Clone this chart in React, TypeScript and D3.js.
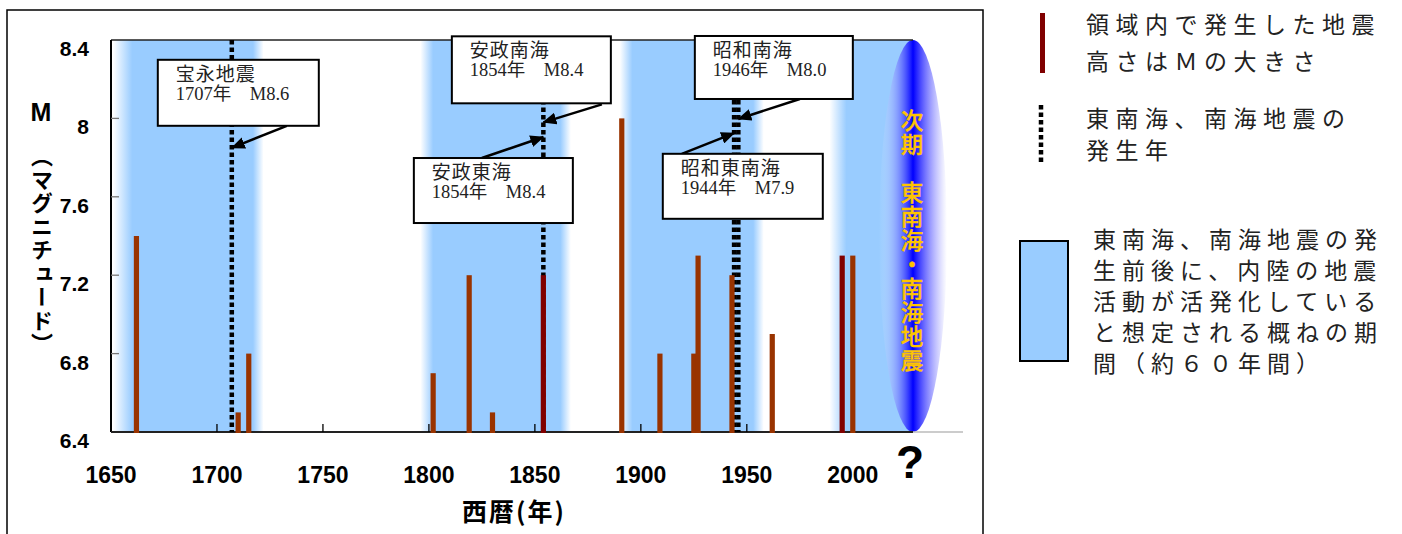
import React from "react";
import * as d3 from "d3";

// ---- data ----
const quakeYears = [1662, 1710, 1715, 1802, 1819, 1830, 1854, 1891, 1909, 1925, 1927, 1943, 1962, 1995, 2000];
const quakeMagnitudes = [7.4, 6.5, 6.8, 6.7, 7.2, 6.5, 7.2, 8.0, 6.8, 6.8, 7.3, 7.2, 6.9, 7.3, 7.3];
const quakeInRegion = [false, false, false, false, false, false, true, false, false, false, false, false, false, true, false];

const trenchQuakeYears = [1707, 1854, 1944, 1946];

const bandStart = [1651, 1796, 1890, 1989];
const bandEnd = [1722, 1867, 1958, 2028.4];
const bandFadeIn = [9, 6, 6, 8];
const bandFadeOut = [5, 5, 5, 0];

const xTicks = [1650, 1700, 1750, 1800, 1850, 1900, 1950, 2000];
const yTicks = [6.4, 6.8, 7.2, 7.6, 8, 8.4];
const yTickLabels = ["6.4", "6.8", "7.2", "7.6", "8", "8.4"];

const annoTitles = ["宝永地震", "安政南海", "安政東海", "昭和南海", "昭和東南海"];
const annoSubs = ["1707年　M8.6", "1854年　M8.4", "1854年　M8.4", "1946年　M8.0", "1944年　M7.9"];
const annoYear = [1707, 1854, 1854, 1946, 1944];
const annoTargetM = [7.85, 7.98, 7.905, 7.997, 7.925];
// box placement relative to arrow target (layout)
const annoBox = [
  { dx: -74, dy: -88, w: 161, h: 66, sx: 55, sy: -22 },
  { dx: -91.5, dy: -86, w: 159, h: 67, sx: 58.5, sy: -18 },
  { dx: -129.5, dy: 21, w: 159, h: 65, sx: -61.5, sy: 21 },
  { dx: -43.5, dy: -83, w: 158, h: 63, sx: 61.5, sy: -20 },
  { dx: -71.3, dy: 20.7, w: 160, h: 65, sx: -52.3, sy: 20.7 },
];

const nextQuakeYear = 2028.4;
const nextQuakeLabel = "次期　東南海・南海地震";

const legend1 = ["領域内で発生した地震", "高さはＭの大きさ"];
const legend2 = ["東南海、南海地震の", "発生年"];
const legend3 = ["東南海、南海地震の発", "生前後に、内陸の地震", "活動が活発化している", "と想定される概ねの期", "間（約６０年間）"];

const BAND = "#99CCFF";
const BAR = "#993300";
const BAR_DARK = "#800000";
const SANS = '"Liberation Sans", Arial, "Noto Sans CJK JP", sans-serif';
const SERIF = '"Liberation Serif", "Noto Sans CJK JP", serif';
const JP = '"Noto Sans CJK JP", "Liberation Sans", sans-serif';

export default function App() {
  const x = d3.scaleLinear().domain([1650, 2052]).range([111, 963]);
  const y = d3.scaleLinear().domain([6.4, 8.4]).range([432, 40]);
  const [x0, x1] = x.range();
  const [yb, yt] = y.range();
  const xEll = x(nextQuakeYear);

  return (
    <svg width={1402} height={534} style={{ position: "absolute", left: 0, top: 0, background: "#fff" }}>
      <defs>
        {bandStart.map((s, i) => {
          const span = bandEnd[i] - s;
          return (
            <linearGradient key={i} id={`band${i}`} x1="0" x2="1" y1="0" y2="0">
              <stop offset="0" stopColor={BAND} stopOpacity={0} />
              <stop offset={bandFadeIn[i] / span} stopColor={BAND} stopOpacity={1} />
              <stop offset={1 - bandFadeOut[i] / span} stopColor={BAND} stopOpacity={1} />
              <stop offset="1" stopColor={BAND} stopOpacity={bandFadeOut[i] === 0 ? 1 : 0} />
            </linearGradient>
          );
        })}
        <linearGradient id="ell" x1="0" x2="1" y1="0" y2="0">
          <stop offset="0" stopColor="#ffffff" stopOpacity={0} />
          <stop offset="0.5" stopColor="#0000ff" stopOpacity={1} />
          <stop offset="1" stopColor="#ffffff" stopOpacity={0.6} />
        </linearGradient>
        <marker id="arr" markerUnits="userSpaceOnUse" markerWidth={14} markerHeight={12} refX={13} refY={6} orient="auto">
          <path d="M0,0 L14,6 L0,12 z" fill="#000" />
        </marker>
      </defs>

      {/* outer frame */}
      <rect x={7} y={10} width={976} height={560} fill="none" stroke="#000" strokeWidth={1.5} />

      {/* bands */}
      {bandStart.map((s, i) => (
        <rect key={i} x={x(s)} y={yt} width={x(bandEnd[i]) - x(s)} height={yb - yt} fill={`url(#band${i})`} />
      ))}

      {/* next quake ellipse */}
      <ellipse cx={xEll} cy={(yt + yb) / 2} rx={34} ry={(yb - yt) / 2} fill="url(#ell)" />

      {/* plot frame lines */}
      <line x1={x0} x2={xEll} y1={yt} y2={yt} stroke="#222" strokeWidth={1.5} />
      <line x1={x0} x2={x0} y1={yt} y2={yb} stroke="#000" strokeWidth={2} />
      <line x1={x0} x2={xEll} y1={yb} y2={yb} stroke="#222" strokeWidth={2} />
      <line x1={xEll} x2={x1} y1={yb} y2={yb} stroke="#bbb" strokeWidth={1.5} />

      {/* ticks */}
      {xTicks.slice(1).map((t) => (
        <line key={t} x1={x(t)} x2={x(t)} y1={yb} y2={yb - 8} stroke="#000" strokeWidth={1.3} />
      ))}
      {yTicks.slice(1, -1).map((t) => (
        <line key={t} x1={x0} x2={x0 + 8} y1={y(t)} y2={y(t)} stroke="#777" strokeWidth={1.3} />
      ))}

      {/* trench quake dotted lines */}
      {trenchQuakeYears.map((yr) => (
        <line key={yr} x1={x(yr)} x2={x(yr)} y1={yt} y2={yb} stroke="#000" strokeWidth={4.5} strokeDasharray="4.5 3" />
      ))}

      {/* bars */}
      {quakeYears.map((yr, i) => (
        <rect key={i} x={x(yr) - 2.6} y={y(quakeMagnitudes[i])} width={5.2} height={yb + 1 - y(quakeMagnitudes[i])}
          fill={quakeInRegion[i] ? BAR_DARK : BAR} />
      ))}

      {/* next quake text */}
      <text x={xEll - 1} y={109} fill="#FFC400" fontFamily={JP} fontWeight={500} fontSize={22.5} letterSpacing={1.5}
        stroke="#FFC400" strokeWidth={0.4}
        style={{ writingMode: "vertical-rl", textOrientation: "upright" } as any}>{nextQuakeLabel}</text>

      {/* annotations */}
      {annoTitles.map((t, i) => {
        const tx = x(annoYear[i]);
        const ty = y(annoTargetM[i]);
        const b = annoBox[i];
        const bx = tx + b.dx;
        const by = ty + b.dy;
        return (
          <g key={i}>
            <line x1={tx + b.sx} y1={ty + b.sy} x2={tx} y2={ty} stroke="#000" strokeWidth={2.5} markerEnd="url(#arr)" />
            <rect x={bx} y={by} width={b.w} height={b.h} fill="#fff" stroke="#000" strokeWidth={2} />
            <text x={bx + 18} y={by + 21} fontFamily={SERIF} fontSize={19} letterSpacing={1} fill="#222">{t}</text>
            <text x={bx + 18} y={by + 40} fontFamily={SERIF} fontSize={18.5} fill="#222">{annoSubs[i]}</text>
          </g>
        );
      })}

      {/* y tick labels */}
      {yTicks.map((t, i) => (
        <text key={t} x={89} y={y(t) + 16} textAnchor="end" fontFamily={SANS} fontWeight="bold" fontSize={21}>{yTickLabels[i]}</text>
      ))}
      {/* x tick labels */}
      {xTicks.map((t) => (
        <text key={t} x={x(t)} y={483} textAnchor="middle" fontFamily={SANS} fontWeight="bold" fontSize={23}>{t}</text>
      ))}
      <text x={910} y={478} textAnchor="middle" fontFamily={SANS} fontWeight="bold" fontSize={46}>?</text>

      {/* axis titles */}
      <text x={514} y={521} textAnchor="middle" fontFamily={JP} fontWeight="bold" fontSize={25} letterSpacing={2}>西暦(年)</text>
      <text x={41} y={121} textAnchor="middle" fontFamily={SANS} fontWeight="bold" fontSize={25}>M</text>
      <text x={42} y={145} fontFamily={JP} fontWeight="bold" fontSize={22} letterSpacing={1.5}
        style={{ writingMode: "vertical-rl", textOrientation: "upright" } as any}>（マグニチュード）</text>

      {/* legend */}
      <rect x={1040} y={13} width={5} height={60} fill={BAR_DARK} />
      {legend1.map((s, i) => (
        <text key={s} x={1086} y={33 + i * 37} fontFamily={SERIF} fontSize={23} letterSpacing={6.5} fill="#222">{s}</text>
      ))}
      <line x1={1041} x2={1041} y1={105} y2={163} stroke="#000" strokeWidth={4.5} strokeDasharray="4.5 3" />
      {legend2.map((s, i) => (
        <text key={s} x={1086} y={127 + i * 32} fontFamily={SERIF} fontSize={23} letterSpacing={6.5} fill="#222">{s}</text>
      ))}
      <rect x={1020} y={241} width={48} height={120} fill={BAND} stroke="#000" strokeWidth={2} />
      {legend3.map((s, i) => (
        <text key={s} x={1093} y={248 + i * 31} fontFamily={SERIF} fontSize={23} letterSpacing={6} fill="#222">{s}</text>
      ))}
    </svg>
  );
}
